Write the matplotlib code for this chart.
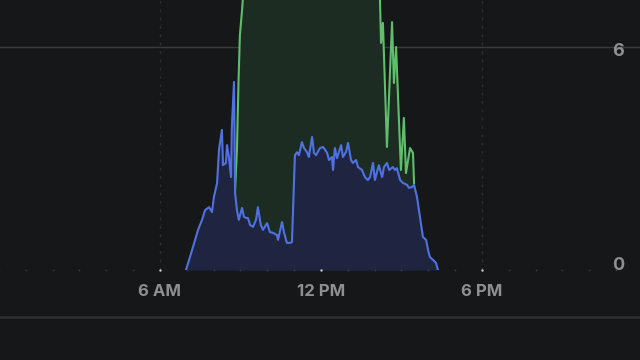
import matplotlib.pyplot as plt
import matplotlib.transforms as mtransforms
import numpy as np

# blue series: hour of day, value
blue_h = [6.97, 7.12, 7.31, 7.42, 7.57, 7.68, 7.83, 7.94, 8.01, 8.13, 8.20, 8.31, 8.35, 8.46,
          8.50, 8.57, 8.65, 8.68, 8.76, 8.80, 8.87, 8.94, 9.06, 9.13, 9.21, 9.28, 9.36, 9.47,
          9.58, 9.65, 9.76, 9.84, 9.99, 10.10, 10.21, 10.36, 10.40, 10.55, 10.62, 10.73,
          10.85, 10.92, 11.03, 11.11, 11.18, 11.29, 11.37, 11.48, 11.55, 11.67, 11.74, 11.82,
          11.96, 12.08, 12.23, 12.30, 12.41, 12.45, 12.52, 12.60, 12.75, 12.82, 12.93, 13.01,
          13.12, 13.19, 13.31, 13.38, 13.53, 13.64, 13.75, 13.83, 13.94, 14.01, 14.09, 14.16,
          14.28, 14.35, 14.46, 14.54, 14.68, 14.76, 14.83, 14.95, 15.06, 15.21, 15.28, 15.39,
          15.47, 15.58, 15.69, 15.80, 15.92, 15.99, 16.06, 16.18, 16.29, 16.36]
blue_v = [0.0, 0.35, 0.81, 1.08, 1.35, 1.61, 1.69, 1.56, 1.96, 2.34, 3.23, 3.77, 2.82, 2.88,
          3.36, 3.04, 2.50, 3.85, 5.06, 2.07, 1.61, 1.35, 1.67, 1.43, 1.40, 1.40, 1.21, 1.16,
          1.35, 1.69, 1.21, 1.08, 1.26, 1.02, 1.00, 0.94, 0.81, 1.29, 1.02, 0.73,
          0.73, 0.75, 3.09, 3.17, 3.09, 3.44, 3.28, 3.17, 3.04, 3.58, 3.15, 3.09,
          3.28, 3.31, 3.15, 2.96, 3.04, 2.69, 3.28, 3.01, 3.36, 3.04, 3.17, 3.42,
          2.96, 2.88, 2.96, 2.77, 2.69, 2.50, 2.42, 2.50, 2.88, 2.42, 2.64, 2.82,
          2.50, 2.77, 2.88, 2.69, 2.77, 2.69, 2.74, 2.42, 2.34, 2.29, 2.21, 2.23,
          2.29, 1.96, 1.43, 0.89, 0.81, 0.54, 0.35, 0.27, 0.19, 0.0]

# green series (goes above the top of the view in the middle of the day)
green_h = [8.80, 8.87, 8.93, 8.98, 9.06, 9.13, 9.24, 10.0, 12.0, 14.0, 14.10, 14.20, 14.24,
           14.31, 14.46, 14.65, 14.72, 14.80, 14.98, 15.09, 15.17, 15.32, 15.43, 15.47]
green_v = [2.15, 3.23, 5.11, 6.32, 6.99, 7.67, 8.2, 8.6, 8.8, 8.5, 8.0, 7.26, 6.11,
           6.65, 3.31, 6.67, 5.03, 6.00, 2.69, 4.09, 2.61, 3.28, 3.15, 2.34]

tick_hours = [6, 12, 18]
tick_labels = ["6 AM", "12 PM", "6 PM"]
y_ticks = [0, 6]

bg = "#161719"
fig = plt.figure(figsize=(6.4, 3.6), dpi=100, facecolor=bg)
ax = fig.add_axes([0, 0.25, 1, 0.75])
ax.set_facecolor(bg)
ax.set_xlim(0.04, 23.89)
ax.set_ylim(0, 7.264)
for s in ax.spines.values():
    s.set_visible(False)
ax.set_xticks([])
ax.set_yticks([])

# grid
ax.axhline(6, color="#3a3b3e", lw=1, zorder=1)
for h in tick_hours:
    ax.axvline(h, color="#2e2f32", lw=1, ls=(0, (2, 4)), zorder=1)
hours = np.arange(0, 24)
ax.scatter(hours, np.zeros_like(hours), s=1.5, color="#3c3d40", zorder=5, clip_on=False, lw=0)
ax.scatter(tick_hours, [0, 0, 0], s=3, color="#c8c8c8", zorder=6, clip_on=False, lw=0)

# series
ax.fill_between(green_h, green_v, 0, color="#1c2c22", lw=0, zorder=2)
ax.plot(green_h, green_v, color="#5fbd6c", lw=1.5, zorder=4)
ax.fill_between(blue_h, blue_v, 0, color="#1f2541", lw=0, zorder=3)
ax.plot(blue_h, blue_v, color="#4f72e0", lw=1.5, zorder=4)

# labels
trans = mtransforms.blended_transform_factory(ax.transAxes, ax.transData)
for v, yy in zip(y_ticks, [0.11, 5.89]):
    ax.text(0.966, yy, str(v), transform=trans, ha="center", va="center",
            color="#8f8f8f", fontsize=13, fontweight="bold", family="Inter")
trans_x = mtransforms.blended_transform_factory(ax.transData, fig.transFigure)
for h, lab in zip(tick_hours, tick_labels):
    ax.text(h, 0.189, lab, transform=trans_x, ha="center", va="center",
            color="#8f8f8f", fontsize=12, fontweight="bold", family="Inter")

fig.add_artist(plt.Line2D([0, 1], [0.119, 0.119], color="#2c2d30", lw=2))

fig.savefig("out.png", dpi=100, facecolor=bg)
